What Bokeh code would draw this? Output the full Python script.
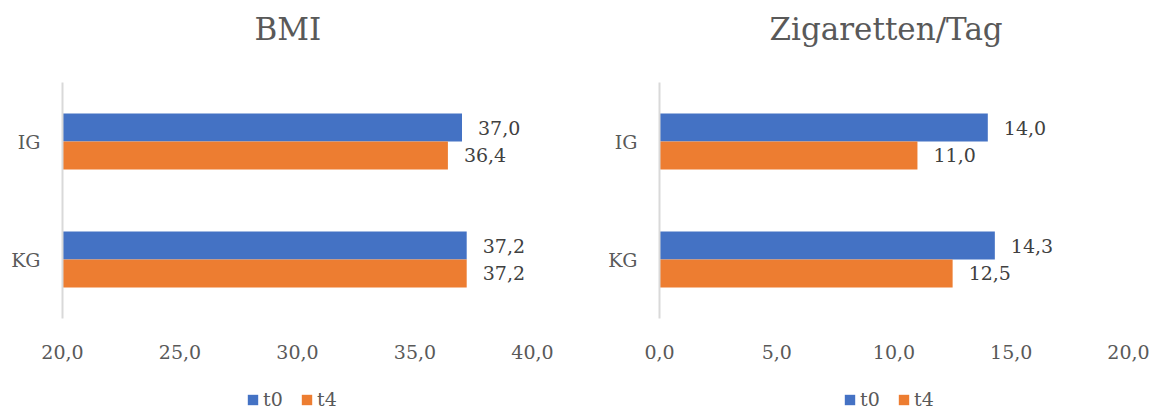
from bokeh.plotting import figure
from bokeh.models import (FactorRange, Range1d, FixedTicker, CustomJSTickFormatter,
                          Legend, LegendItem, ColumnDataSource)
from bokeh.transform import dodge
from bokeh.layouts import row, column
from bokeh.embed import file_html
from bokeh.resources import INLINE
from bokeh.core.properties import value

groups = ["IG", "KG"]
series = ["t0", "t4"]
titles = ["BMI", "Zigaretten/Tag"]
bmi_t0 = [37.0, 37.2]
bmi_t4 = [36.4, 37.2]
cig_t0 = [14.0, 14.3]
cig_t4 = [11.0, 12.5]
bmi_ticks = [20, 25, 30, 35, 40]
cig_ticks = [0, 5, 10, 15, 20]

FONT = "DejaVu Serif"
BLUE = "#4472C4"
ORANGE = "#ED7D31"
GRAY = "#595959"
TITLE_H = 64
MAIN_H = 312
LEG_H = 34
FRAME_TOP = 82
FRAME_BOTTOM = 318


def fmt(v):
    return f"{v:.1f}".replace(".", ",")


def blank(width, height):
    q = figure(width=width, height=height, output_backend="svg", toolbar_location=None,
               x_range=Range1d(0, 1), y_range=Range1d(0, 1), min_border=0)
    q.axis.visible = False
    q.grid.visible = False
    q.outline_line_color = None
    return q


def make_title(width, text, x0):
    q = blank(width, TITLE_H)
    q.title.text = text
    q.title.align = "left"
    q.title.offset = x0
    q.title.standoff = 16
    q.title.text_font = FONT
    q.title.text_font_size = "31px"
    q.title.text_font_style = "normal"
    q.title.text_color = GRAY
    return q


def make_panel(t0, t4, ticks, width, bl, br):
    src = ColumnDataSource(dict(
        g=groups, t0=t0, t4=t4,
        l0=[fmt(v) for v in t0], l4=[fmt(v) for v in t4],
        base=[ticks[0]] * len(groups),
    ))
    p = figure(width=width, height=MAIN_H, output_backend="svg", toolbar_location=None,
               y_range=FactorRange(factors=list(reversed(groups))),
               x_range=Range1d(ticks[0], ticks[-1]),
               min_border_left=bl, min_border_right=br,
               min_border_top=FRAME_TOP - TITLE_H,
               min_border_bottom=TITLE_H + MAIN_H - FRAME_BOTTOM)
    p.outline_line_color = None
    p.xgrid.grid_line_color = None
    p.ygrid.grid_line_color = None

    off = 0.1183
    h = 0.2367
    p.hbar(y=dodge("g", off, range=p.y_range), left="base", right="t0", height=h,
           source=src, fill_color=BLUE, line_color=None)
    p.hbar(y=dodge("g", -off, range=p.y_range), left="base", right="t4", height=h,
           source=src, fill_color=ORANGE, line_color=None)
    for col, lab, o in (("t0", "l0", off), ("t4", "l4", -off)):
        p.text(x=col, y=dodge("g", o, range=p.y_range), text=lab, source=src,
               x_offset=16, text_align="left", text_baseline="middle",
               text_font=value(FONT), text_font_size="19px", text_color="#404040")

    xa = p.xaxis[0]
    xa.ticker = FixedTicker(ticks=ticks)
    xa.formatter = CustomJSTickFormatter(code="return tick.toFixed(1).replace('.', ',');")
    xa.axis_line_color = None
    xa.major_tick_line_color = None
    xa.minor_tick_line_color = None
    xa.major_label_standoff = 20
    xa.major_label_text_font = FONT
    xa.major_label_text_font_size = "19px"
    xa.major_label_text_color = GRAY

    ya = p.yaxis[0]
    ya.axis_line_color = "#D9D9D9"
    ya.axis_line_width = 2
    ya.major_tick_line_color = None
    ya.minor_tick_line_color = None
    ya.major_tick_out = 0
    ya.major_label_standoff = 22
    ya.major_label_text_font = FONT
    ya.major_label_text_font_size = "19px"
    ya.major_label_text_color = GRAY
    return p


def make_legend(width, x0):
    q = blank(width, LEG_H)
    # zero-size placeholder bars: only their colours are used by the legend
    dummy = ColumnDataSource(dict(y=[0], r=[0]))
    d0 = q.hbar(y="y", left="r", right="r", height=0, source=dummy,
                fill_color=BLUE, line_color=None)
    d4 = q.hbar(y="y", left="r", right="r", height=0, source=dummy,
                fill_color=ORANGE, line_color=None)
    leg = Legend(items=[LegendItem(label=series[0], renderers=[d0]),
                        LegendItem(label=series[1], renderers=[d4])],
                 orientation="horizontal", location=(x0, 0))
    leg.border_line_color = None
    leg.background_fill_alpha = 0
    leg.glyph_width = 13
    leg.glyph_height = 13
    leg.label_standoff = 4
    leg.spacing = 17
    leg.padding = 0
    leg.margin = 0
    leg.label_text_font = FONT
    leg.label_text_font_size = "19px"
    leg.label_text_color = GRAY
    q.add_layout(leg)
    return q


t1 = make_title(575, titles[0], 254)
t2 = make_title(576, titles[1], 194)
p1 = make_panel(bmi_t0, bmi_t4, bmi_ticks, 575, 62, 43)
p2 = make_panel(cig_t0, cig_t4, cig_ticks, 576, 84, 23)
l1 = make_legend(575, 246)
l2 = make_legend(576, 268)
layout = column(row(t1, t2), row(p1, p2), row(l1, l2))
open("out.html", "w").write(file_html(layout, INLINE))
